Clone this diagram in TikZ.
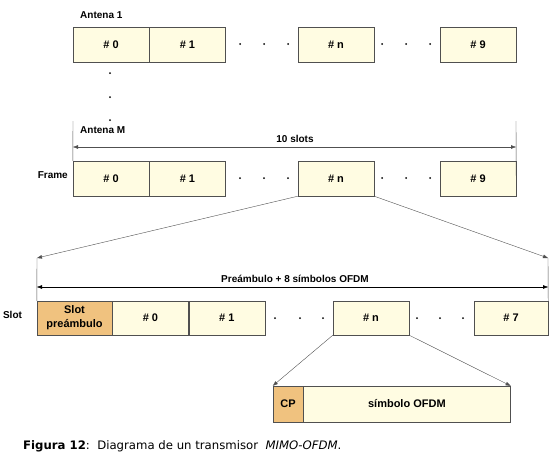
\documentclass[tikz,border=0pt]{standalone}
\usepackage{fontspec}
\setmainfont{Liberation Sans}
\newfontfamily\capfont{DejaVu Sans}
\usetikzlibrary{positioning,arrows.meta}
\definecolor{cream}{HTML}{FFFCE2}
\definecolor{peach}{HTML}{F0C27F}
\definecolor{edge}{HTML}{505050}

\begin{document}
\begin{tikzpicture}[x=1pt, y=-1pt,
    slot/.style = {draw=edge, fill=cream, minimum width=76pt, minimum height=35pt, inner sep=0pt, align=center, font=\fontsize{11}{14}\selectfont\bfseries},
    pre/.style = {slot, fill=peach},
    lbl/.style = {inner sep=0pt, font=\fontsize{10}{11}\selectfont\bfseries},
    pt/.style = {fill=black},
    > = {Triangle[length=5pt, width=3.5pt]}
]
\useasboundingbox (0,0) rectangle (553,464);

% antena 1
\node (a1) [lbl, anchor=west] at (80,15) {Antena 1};
\node (a0) [slot] at (111,44.5) {\# 0};
\node (a1b) [slot, right=0pt of a0] {\# 1};
\node (an) [slot] at (336,44.5) {\# n};
\node (a9) [slot] at (478,44.5) {\# 9};
\foreach \x in {240,264,288,382,406,430} \fill[pt] (\x,44) circle (1pt);
\foreach \y in {73,97,120} \fill[pt] (110,\y) circle (1pt);

% antena M / frame
\node (aM) [lbl, anchor=west] at (80,130) {Antena M};
\node (f0) [slot] at (111,178.5) {\# 0};
\node (f1) [slot, right=0pt of f0] {\# 1};
\node (fn) [slot] at (336,178.5) {\# n};
\node (f9) [slot] at (478,178.5) {\# 9};
\node (frame) [lbl, anchor=east] at (68,175) {Frame};
\foreach \x in {240,264,288,382,406,430} \fill[pt] (\x,178) circle (1pt);

\coordinate (tl) at (73,121);
\coordinate (tr) at (516,121);
\draw[edge] (tl) -- (f0.north west);
\draw[edge] (tr) -- (f9.east);
\draw[<->, edge] (73,147) -- (516,147);
\node (ten) [lbl] at (295,139) {10 slots};

% slot
\node (sp) [pre, minimum width=75pt, minimum height=34pt] at (74.5,318) {Slot\\preámbulo};
\node (s0) [slot, minimum height=34pt, right=0pt of sp] {\# 0};
\node (s1) [slot, minimum height=34pt, right=0pt of s0] {\# 1};
\node (sn) [slot, minimum height=34pt] at (371,318) {\# n};
\node (s7) [slot, minimum width=74pt, minimum height=34pt] at (511,318) {\# 7};
\node (slt) [lbl] at (12.5,315) {Slot};
\foreach \x in {275,300,323,417,440,463} \fill[pt] (\x,318) circle (1pt);

\coordinate (pl) at (37,258);
\coordinate (pr) at (548,258);
\draw[->, edge] (fn.south west) -- (pl);
\draw[->, edge] (fn.south east) -- (pr);
\draw[edge] (pl) -- (sp.north west);
\draw[edge] (pr) -- (s7.north east);
\draw[<->, black] (37,287) -- (548,287);
\node (pre8) [lbl] at (295,279) {Preámbulo + 8 símbolos OFDM};

% simbolo
\node (cp) [pre, minimum width=30pt, minimum height=36pt] at (288,404) {CP};
\node (sym) [slot, minimum width=207pt, minimum height=36pt, right=0pt of cp] {símbolo OFDM};
\draw[->, edge] (sn.south west) -- (cp.north west);
\draw[->, edge] (sn.south east) -- (sym.north east);

% pie
\node (cap) [anchor=west, inner sep=0pt, font=\capfont\fontsize{11.7}{13}\selectfont] at (23,446)
  {\textbf{Figura 12}:\ \ Diagrama de un transmisor\ \ \textit{MIMO-OFDM}.};
\end{tikzpicture}
\end{document}
